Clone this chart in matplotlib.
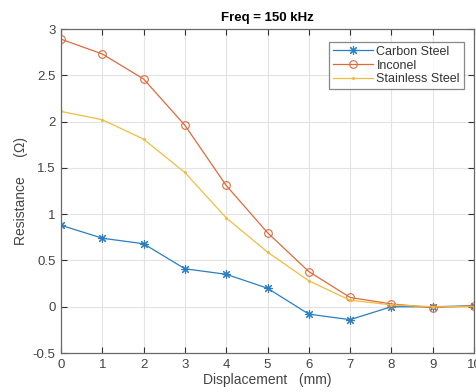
import matplotlib
matplotlib.use("Agg")
import matplotlib.pyplot as plt

plt.rcParams['font.family'] = ['Liberation Sans', 'DejaVu Sans']

displacement = [0, 1, 2, 3, 4, 5, 6, 7, 8, 9, 10]
carbon_steel = [0.88, 0.74, 0.68, 0.41, 0.35, 0.20, -0.08, -0.14, 0.00, 0.00, 0.01]
inconel = [2.89, 2.73, 2.46, 1.96, 1.31, 0.80, 0.38, 0.10, 0.03, -0.01, 0.01]
stainless_steel = [2.11, 2.02, 1.81, 1.45, 0.96, 0.59, 0.28, 0.07, 0.02, 0.00, 0.00]

series_names = ['Carbon Steel', 'Inconel', 'Stainless Steel']
x_ticks = [0, 1, 2, 3, 4, 5, 6, 7, 8, 9, 10]
y_ticks = [-0.5, 0, 0.5, 1, 1.5, 2, 2.5, 3]

W, H = 476, 392
fig = plt.figure(figsize=(W / 100, H / 100), dpi=100)
left, right, top, bottom = 61, 474, 29, 353
ax = fig.add_axes([left / W, 1 - bottom / H, (right - left) / W, (bottom - top) / H])

ax.plot(displacement, carbon_steel, color='#2a7fc2', lw=0.9,
        marker=(8, 2, 0), ms=6.5, mew=0.8, label=series_names[0])
ax.plot(displacement, inconel, color='#de6a3a', lw=0.9,
        marker='o', ms=5.5, mfc='none', mew=0.8, label=series_names[1])
ax.plot(displacement, stainless_steel, color='#efbd3f', lw=0.9,
        marker='.', ms=2.5, label=series_names[2])

ax.set_xlim(0, 10)
ax.set_ylim(-0.5, 3)
ax.set_xticks(x_ticks)
ax.set_yticks(y_ticks)
ax.set_yticklabels(['-0.5', '0', '0.5', '1', '1.5', '2', '2.5', '3'])
ax.grid(True, color='#e3e3e3', lw=0.8)
ax.set_axisbelow(True)
ax.tick_params(direction='in', top=True, right=True, length=4, width=0.8,
               colors='#333333', labelcolor='#444444', labelsize=9.5, pad=4)
for s in ax.spines.values():
    s.set_color('#6a6a6a')
    s.set_linewidth(0.9)

ax.set_title('Freq = 150 kHz', fontsize=9.5, fontweight='bold', pad=6)
ax.set_xlabel('Displacement   (mm)', fontsize=10, color='#444444', labelpad=2)
ax.set_ylabel('Resistance     (Ω)', fontsize=10, color='#444444', labelpad=3)

leg = ax.legend(loc='upper right', bbox_to_anchor=(0.975, 0.96), fontsize=9,
                frameon=True, fancybox=False, edgecolor='#6a6a6a',
                handlelength=3.2, handletextpad=0.3, borderpad=0.3,
                labelspacing=0.15, borderaxespad=0)
leg.get_frame().set_linewidth(0.9)
for t in leg.get_texts():
    t.set_color('#333333')

fig.savefig('out.png', dpi=100)
